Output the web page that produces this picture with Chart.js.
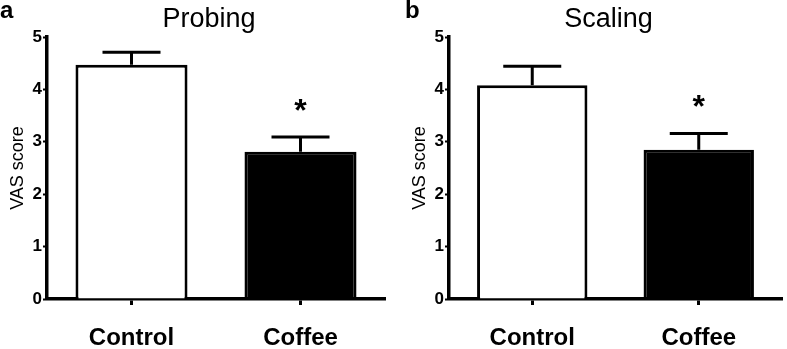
<!DOCTYPE html>
<html>
<head>
<meta charset="utf-8">
<script src="https://cdn.jsdelivr.net/npm/chart.js@4/dist/chart.umd.min.js"></script>
<style>
    body { margin: 0; background: #fff; }
    #wrap { position: relative; width: 787px; height: 349px; }
    canvas { position: absolute; top: 0; }
</style>
</head>
<body>
<div id="wrap">
    <canvas id="probing" width="400" height="349" style="left:0"></canvas>
    <canvas id="scaling" width="385" height="349" style="left:402px"></canvas>
</div>
<script>
const groups = ["Control", "Coffee"];
const barColors = ["#ffffff", "#000000"];
const probingMean = [4.47, 2.81];
const probingSem = [0.24, 0.28];
const scalingMean = [4.08, 2.85];
const scalingSem = [0.36, 0.31];
const sigMarks = ["", "*"];
const yMax = 5;
const yStep = 1;

const fontFamily = "'Liberation Sans', Arial, Helvetica, sans-serif";

function makeChart(canvasId, letter, title, means, errors, padRight) {
    // error bars, asterisks, panel letter and title
    const extras = {
        id: "extras",
        afterDatasetsDraw(chart) {
            const ctx = chart.ctx;
            const yScale = chart.scales.y;
            const area = chart.chartArea;
            const meta = chart.getDatasetMeta(0);
            ctx.save();
            ctx.strokeStyle = "#000";
            ctx.fillStyle = "#000";
            ctx.lineWidth = 3;
            meta.data.forEach((bar, i) => {
                const top = yScale.getPixelForValue(means[i] + errors[i]);
                ctx.beginPath();
                ctx.moveTo(bar.x, bar.y);
                ctx.lineTo(bar.x, top);
                ctx.moveTo(bar.x - 29, top);
                ctx.lineTo(bar.x + 29, top);
                ctx.stroke();
                if (sigMarks[i]) {
                    ctx.font = `bold 32px ${fontFamily}`;
                    ctx.textAlign = "center";
                    ctx.textBaseline = "alphabetic";
                    ctx.fillText(sigMarks[i], bar.x, top - 16);
                }
            });
            ctx.textBaseline = "alphabetic";
            ctx.font = `bold 24px ${fontFamily}`;
            ctx.textAlign = "left";
            ctx.fillText(letter, letter === "a" ? 0 : 3, 18);
            ctx.font = `27px ${fontFamily}`;
            ctx.textAlign = "center";
            ctx.fillText(title, (area.left + area.right) / 2 - 7, 27);
            ctx.restore();
        },
    };

    return new Chart(document.getElementById(canvasId), {
        type: "bar",
        data: {
            labels: groups,
            datasets: [
                {
                    data: means,
                    backgroundColor: barColors,
                    borderColor: "#000",
                    borderWidth: 3,
                    borderSkipped: "start",
                    barPercentage: 0.663,
                    categoryPercentage: 1,
                },
            ],
        },
        options: {
            responsive: false,
            animation: false,
            layout: {
                padding: { top: 37, right: padRight, bottom: 0, left: 0 },
            },
            plugins: {
                legend: { display: false },
                tooltip: { enabled: false },
            },
            scales: {
                x: {
                    afterFit: (scale) => {
                        scale.height = 50;
                    },
                    grid: {
                        offset: false,
                        drawOnChartArea: false,
                        tickLength: 6,
                        tickWidth: 3,
                        tickColor: "#000",
                    },
                    border: { color: "#000", width: 3.5 },
                    ticks: {
                        color: "#000",
                        padding: 19,
                        font: { family: fontFamily, size: 24, weight: "bold" },
                    },
                },
                y: {
                    min: 0,
                    max: yMax,
                    afterFit: (scale) => {
                        scale.width = 47;
                    },
                    grid: {
                        drawOnChartArea: false,
                        tickLength: 4,
                        tickWidth: 2,
                        tickColor: "#000",
                    },
                    border: { color: "#000", width: 3.5 },
                    ticks: {
                        stepSize: yStep,
                        color: "#000",
                        padding: 1,
                        font: { family: fontFamily, size: 17, weight: "bold" },
                    },
                    title: {
                        display: true,
                        text: "VAS score",
                        color: "#000",
                        padding: { top: 7, bottom: 0 },
                        font: { family: fontFamily, size: 18 },
                    },
                },
            },
        },
        plugins: [extras],
    });
}

makeChart("probing", "a", "Probing", probingMean, probingSem, 15);
makeChart("scaling", "b", "Scaling", scalingMean, scalingSem, 5);
</script>
</body>
</html>
